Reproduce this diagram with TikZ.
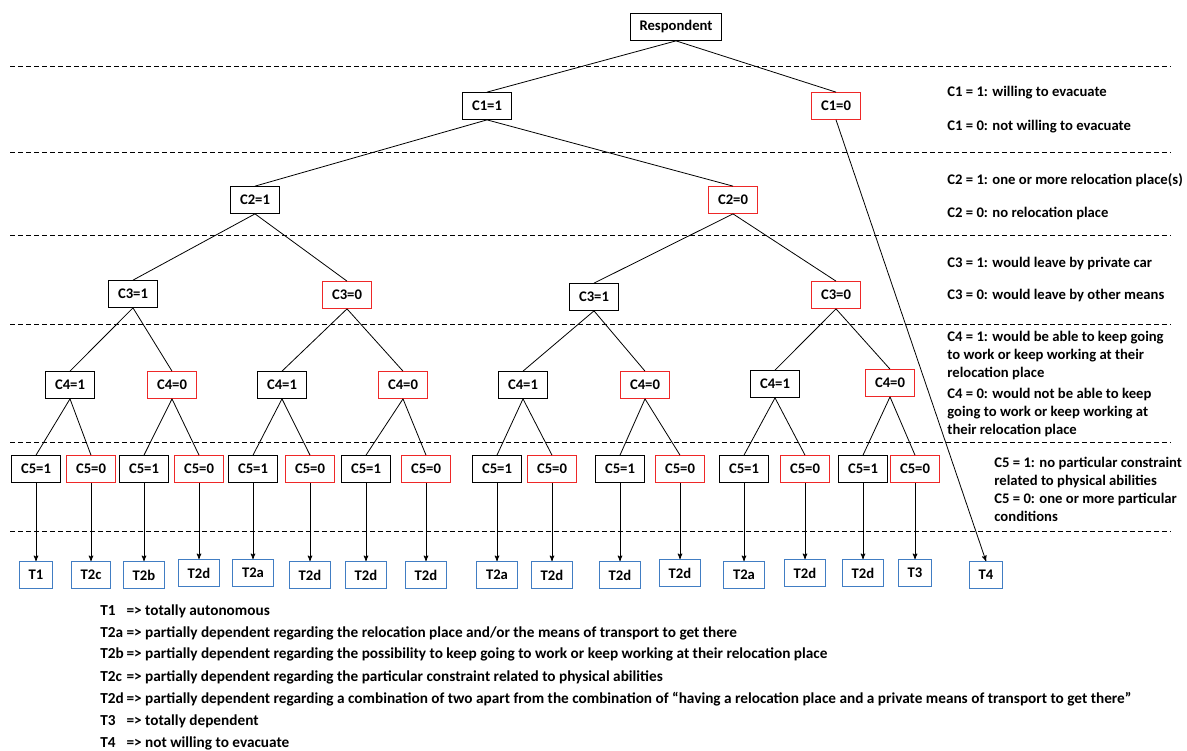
\documentclass[tikz,border=0pt]{standalone}
\usepackage{fontspec}
\setmainfont{Carlito}
\usetikzlibrary{arrows}
\definecolor{boxred}{RGB}{238,40,40}
\definecolor{boxblue}{RGB}{65,125,195}
\newcommand{\typeline}[2]{\makebox[17pt][l]{#1} => #2}
\tikzset{
	treenode/.style = {
		align=center,
		rectangle,
		inner xsep=7pt,
		inner ysep=0pt,
		minimum height=20pt,
		font=\fontsize{11}{13}\selectfont\bfseries,
		line width=0.8pt,
		fill=white
	},
	node_b/.style = {
		treenode,
		draw=black
	},
	node_r/.style = {
		treenode,
		draw=boxred
	},
	node_type/.style = {
		treenode,
		draw=boxblue
	},
	note/.style = {
		anchor=base west,
		align=left,
		inner sep=0pt,
		font=\fontsize{11}{13.4}\selectfont\bfseries
	},
	legend/.style = {
		note,
		font=\fontsize{11.45}{14}\selectfont\bfseries
	},
	level_line/.style = {
		dash pattern=on 3.75pt off 2.25pt,
		line width=0.6pt
	},
}

\begin{document}
\begin{tikzpicture}[x=0.75pt, y=-0.75pt, >=stealth', line width=0.6pt]
\useasboundingbox (0,0) rectangle (1187,750);

% level separators
\draw [level_line] (10,66) -- (1171,66);
\draw [level_line] (10,152) -- (1171,152);
\draw [level_line] (10,235) -- (1171,235);
\draw [level_line] (10,324) -- (1171,324);
\draw [level_line] (10,442) -- (1171,442);
\draw [level_line] (10,531) -- (1171,531);

% tree
\node [node_b] (resp) at (676,27) {Respondent};
\node [node_b] (c1_1) at (487,106) {C1=1};
\node [node_r] (c1_0) at (836,106) {C1=0};
\node [node_b] (c2_1) at (255,200) {C2=1};
\node [node_r] (c2_0) at (733,200) {C2=0};
\node [node_b] (c3_1a) at (133,294) {C3=1};
\node [node_r] (c3_0a) at (347,295) {C3=0};
\node [node_b] (c3_1b) at (594,297) {C3=1};
\node [node_r] (c3_0b) at (836,295) {C3=0};
\node [node_b] (c4_1a) at (70,385) {C4=1};
\node [node_r] (c4_0a) at (172,385) {C4=0};
\node [node_b] (c4_1b) at (282,385) {C4=1};
\node [node_r] (c4_0b) at (403,385) {C4=0};
\node [node_b] (c4_1c) at (523,385) {C4=1};
\node [node_r] (c4_0c) at (645,385) {C4=0};
\node [node_b] (c4_1d) at (775,384) {C4=1};
\node [node_r] (c4_0d) at (890,383) {C4=0};

\node [node_b] (c5_1a) at (36,469) {C5=1};
\node [node_r] (c5_0a) at (91,469) {C5=0};
\node [node_b] (c5_1b) at (144,469) {C5=1};
\node [node_r] (c5_0b) at (199,469) {C5=0};
\node [node_b] (c5_1c) at (253,469) {C5=1};
\node [node_r] (c5_0c) at (310,469) {C5=0};
\node [node_b] (c5_1d) at (366,469) {C5=1};
\node [node_r] (c5_0d) at (426,469) {C5=0};
\node [node_b] (c5_1e) at (497,469) {C5=1};
\node [node_r] (c5_0e) at (552,469) {C5=0};
\node [node_b] (c5_1f) at (620,469) {C5=1};
\node [node_r] (c5_0f) at (680,469) {C5=0};
\node [node_b] (c5_1g) at (744,469) {C5=1};
\node [node_r] (c5_0g) at (805,469) {C5=0};
\node [node_b] (c5_1h) at (863,469) {C5=1};
\node [node_r] (c5_0h) at (915,469) {C5=0};

% types
\node [node_type] (t_a) at (36,575) {T1};
\node [node_type] (t_b) at (91,575) {T2c};
\node [node_type] (t_c) at (144,575) {T2b};
\node [node_type] (t_d) at (199,573) {T2d};
\node [node_type] (t_e) at (253,573) {T2a};
\node [node_type] (t_f) at (310,575) {T2d};
\node [node_type] (t_g) at (366,575) {T2d};
\node [node_type] (t_h) at (426,575) {T2d};
\node [node_type] (t_i) at (497,575) {T2a};
\node [node_type] (t_j) at (552,575) {T2d};
\node [node_type] (t_k) at (620,575) {T2d};
\node [node_type] (t_l) at (680,573) {T2d};
\node [node_type] (t_m) at (744,575) {T2a};
\node [node_type] (t_n) at (805,573) {T2d};
\node [node_type] (t_o) at (863,573) {T2d};
\node [node_type] (t_p) at (915,573) {T3};
\node [node_type] (t_q) at (986,575) {T4};

% branches
\draw (resp.south) -- (c1_1.north);
\draw (resp.south) -- (c1_0.north);
\draw (c1_1.south) -- (c2_1.north);
\draw (c1_1.south) -- (c2_0.north);
\draw (c2_1.south) -- (c3_1a.north);
\draw (c2_1.south) -- (c3_0a.north);
\draw (c2_0.south) -- (c3_1b.north);
\draw (c2_0.south) -- (c3_0b.north);
\draw (c3_1a.south) -- (c4_1a.north);
\draw (c3_1a.south) -- (c4_0a.north);
\draw (c3_0a.south) -- (c4_1b.north);
\draw (c3_0a.south) -- (c4_0b.north);
\draw (c3_1b.south) -- (c4_1c.north);
\draw (c3_1b.south) -- (c4_0c.north);
\draw (c3_0b.south) -- (c4_1d.north);
\draw (c3_0b.south) -- (c4_0d.north);
\draw (c4_1a.south) -- (c5_1a.north);
\draw (c4_1a.south) -- (c5_0a.north);
\draw (c4_0a.south) -- (c5_1b.north);
\draw (c4_0a.south) -- (c5_0b.north);
\draw (c4_1b.south) -- (c5_1c.north);
\draw (c4_1b.south) -- (c5_0c.north);
\draw (c4_0b.south) -- (c5_1d.north);
\draw (c4_0b.south) -- (c5_0d.north);
\draw (c4_1c.south) -- (c5_1e.north);
\draw (c4_1c.south) -- (c5_0e.north);
\draw (c4_0c.south) -- (c5_1f.north);
\draw (c4_0c.south) -- (c5_0f.north);
\draw (c4_1d.south) -- (c5_1g.north);
\draw (c4_1d.south) -- (c5_0g.north);
\draw (c4_0d.south) -- (c5_1h.north);
\draw (c4_0d.south) -- (c5_0h.north);

% outcomes
\draw [->] (c5_1a.south) -- (t_a.north);
\draw [->] (c5_0a.south) -- (t_b.north);
\draw [->] (c5_1b.south) -- (t_c.north);
\draw [->] (c5_0b.south) -- (t_d.north);
\draw [->] (c5_1c.south) -- (t_e.north);
\draw [->] (c5_0c.south) -- (t_f.north);
\draw [->] (c5_1d.south) -- (t_g.north);
\draw [->] (c5_0d.south) -- (t_h.north);
\draw [->] (c5_1e.south) -- (t_i.north);
\draw [->] (c5_0e.south) -- (t_j.north);
\draw [->] (c5_1f.south) -- (t_k.north);
\draw [->] (c5_0f.south) -- (t_l.north);
\draw [->] (c5_1g.south) -- (t_m.north);
\draw [->] (c5_0g.south) -- (t_n.north);
\draw [->] (c5_1h.south) -- (t_o.north);
\draw [->] (c5_0h.south) -- (t_p.north);
\draw [->] (c1_0.south) -- (t_q.north);

% criteria (base = last line)
\node [note] (n_c1a) at (947,96) {C1 = 1: willing to evacuate};
\node [note] (n_c1b) at (947,130) {C1 = 0: not willing to evacuate};
\node [note] (n_c2a) at (947,184) {C2 = 1: one or more relocation place(s)};
\node [note] (n_c2b) at (947,217) {C2 = 0: no relocation place};
\node [note] (n_c3a) at (947,267) {C3 = 1: would leave by private car};
\node [note] (n_c3b) at (947,299) {C3 = 0: would leave by other means};
\node [note] (n_c4a) at (947,377) {C4 = 1: would be able to keep going\\to work or keep working at their\\relocation place};
\node [note] (n_c4b) at (947,434) {C4 = 0: would not be able to keep\\going to work or keep working at\\their relocation place};
\node [note] (n_c5) at (994,521) {C5 = 1: no particular constraint\\related to physical abilities\\C5 = 0: one or more particular\\conditions};

% legend
\node [legend] (l_t1) at (100,615) {\typeline{T1}{totally autonomous}};
\node [legend] (l_t2a) at (100,637) {\typeline{T2a}{partially dependent regarding the relocation place and/or the means of transport to get there}};
\node [legend] (l_t2b) at (100,658) {\typeline{T2b}{partially dependent regarding the possibility to keep going to work or keep working at their relocation place}};
\node [legend] (l_t2c) at (100,681) {\typeline{T2c}{partially dependent regarding the particular constraint related to physical abilities}};
\node [legend] (l_t2d) at (100,703) {\typeline{T2d}{partially dependent regarding a combination of two apart from the combination of “having a relocation place and a private means of transport to get there”}};
\node [legend] (l_t3) at (100,725) {\typeline{T3}{totally dependent}};
\node [legend] (l_t4) at (100,747) {\typeline{T4}{not willing to evacuate}};
\end{tikzpicture}
\end{document}
